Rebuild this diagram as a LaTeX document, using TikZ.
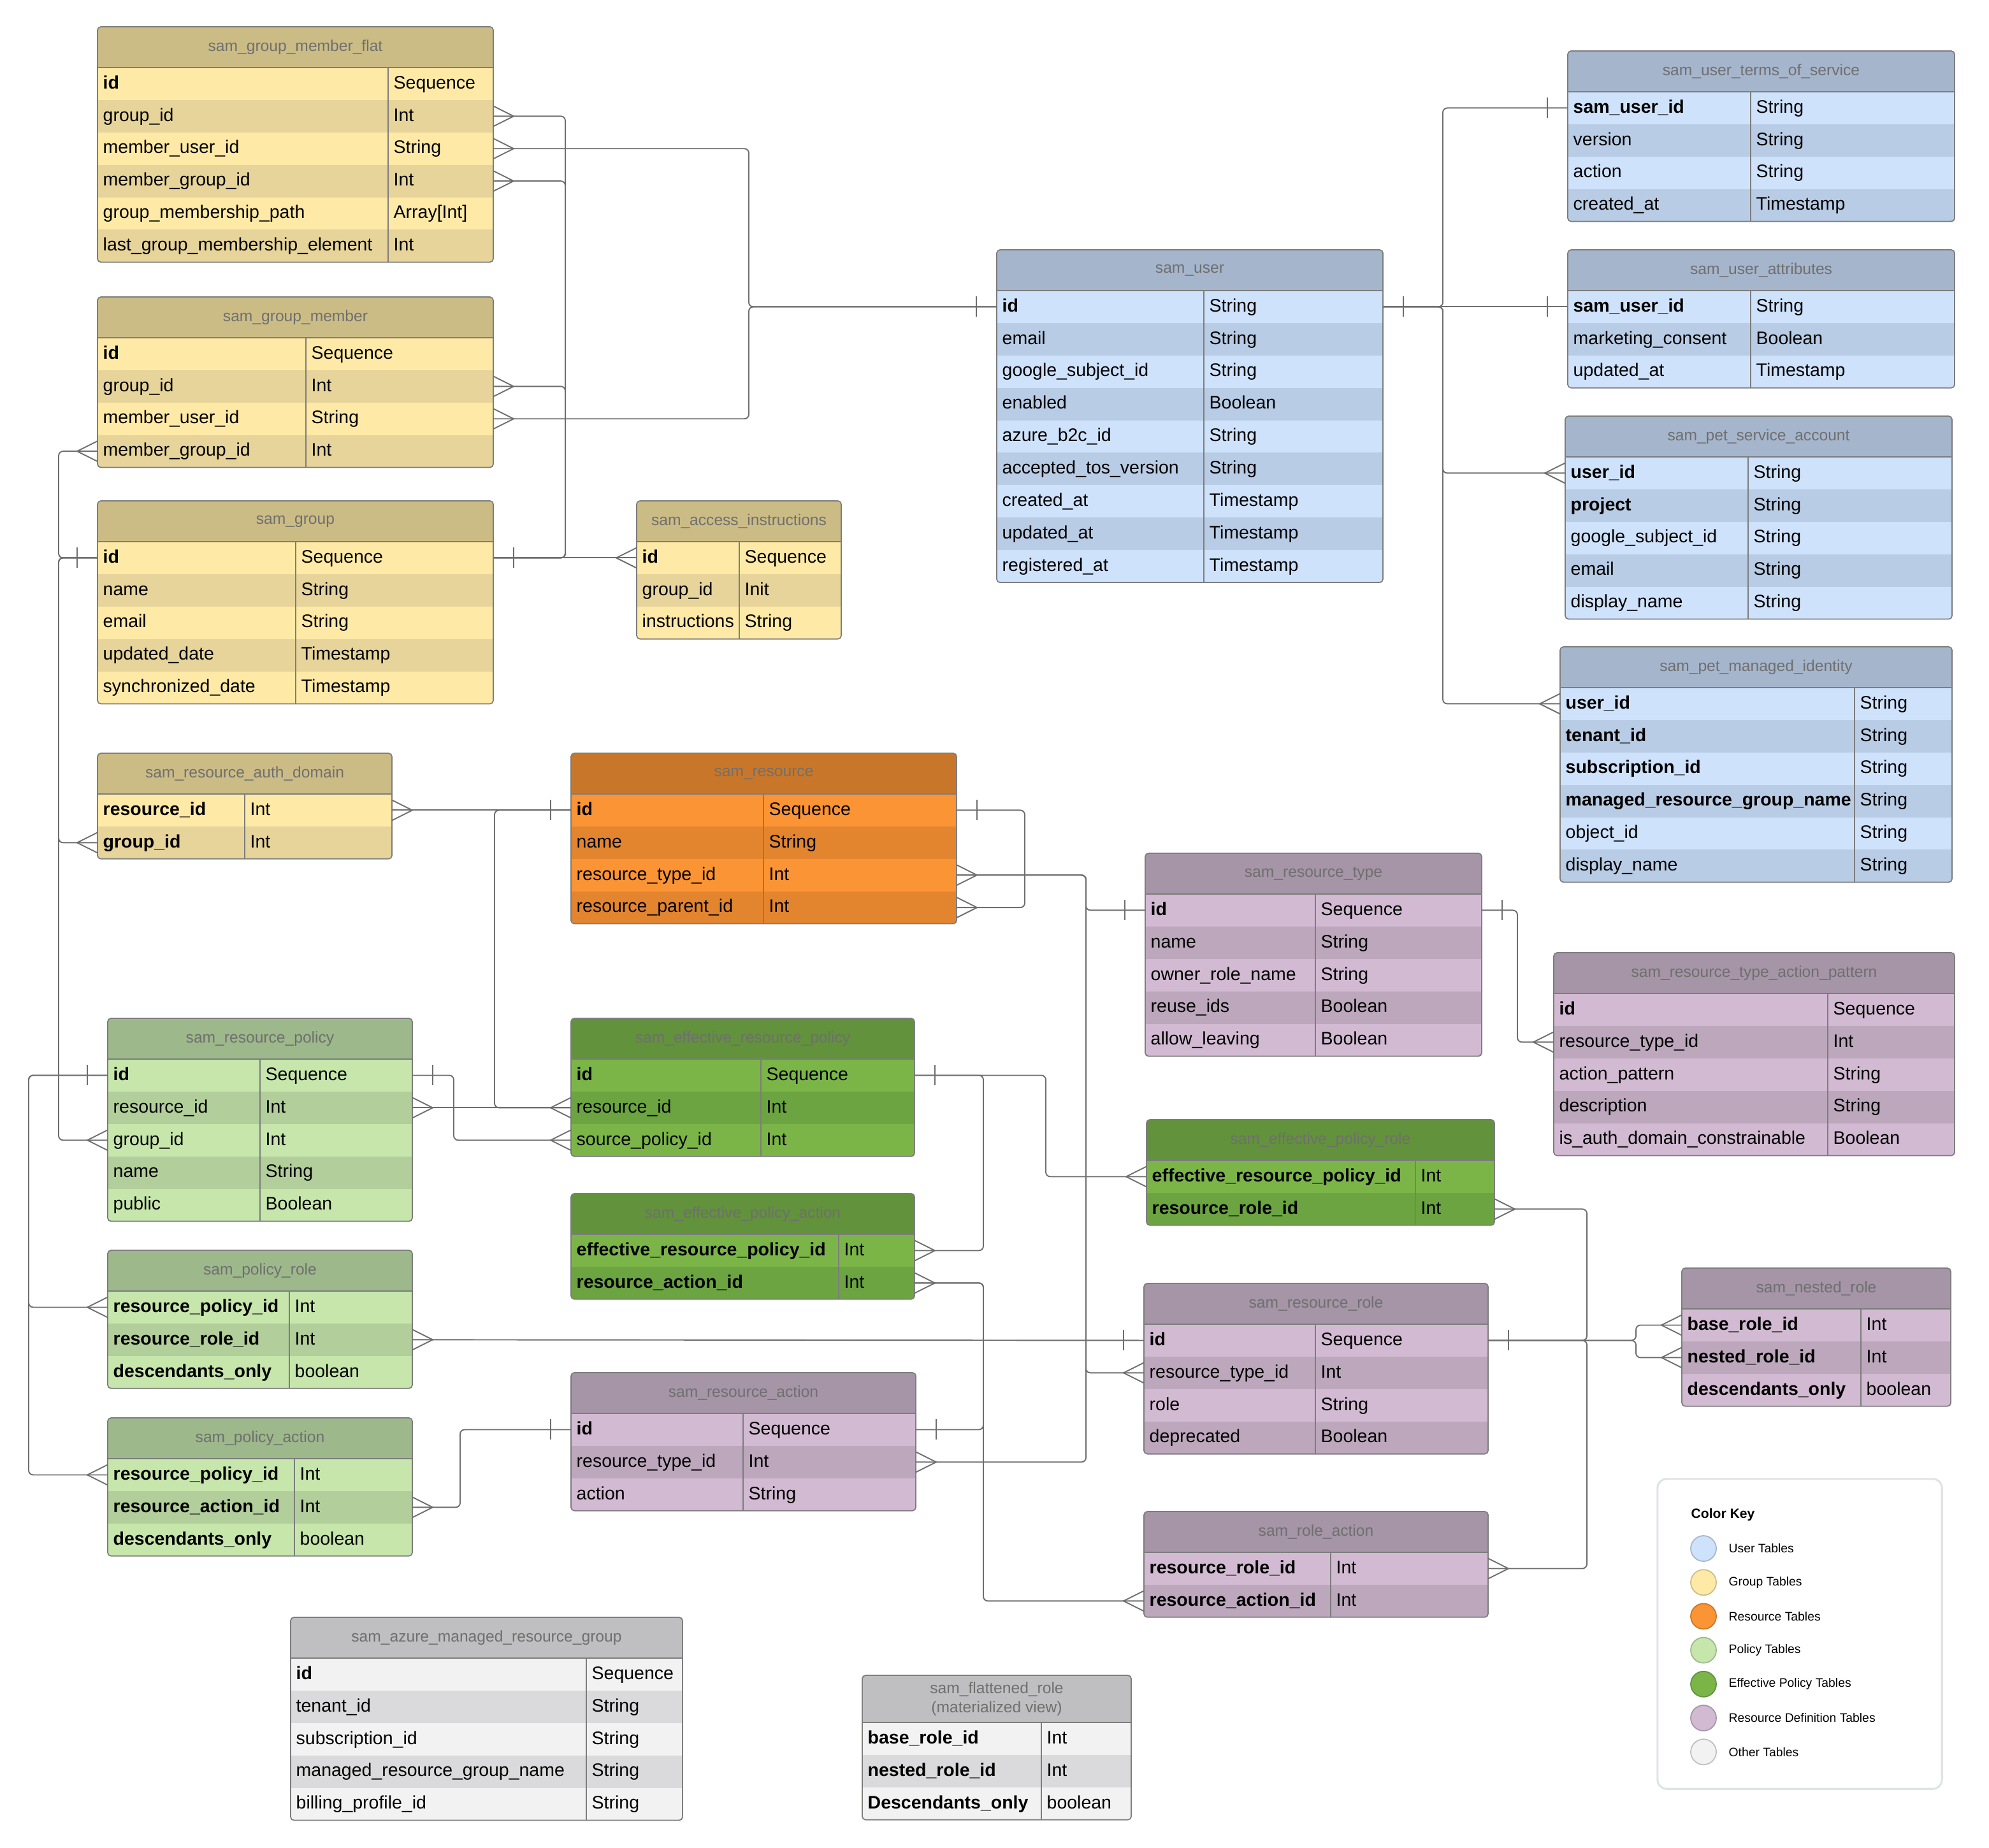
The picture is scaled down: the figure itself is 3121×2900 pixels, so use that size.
\documentclass[tikz,border=0pt]{standalone}
\usepackage{fontspec}
\setmainfont{Liberation Sans}
\usepackage{xcolor}
\definecolor{headusr}{HTML}{A5B5CC}
\definecolor{lightusr}{HTML}{CFE2FB}
\definecolor{darkusr}{HTML}{B9CCE5}
\definecolor{headgrp}{HTML}{CBBC86}
\definecolor{lightgrp}{HTML}{FEEAA6}
\definecolor{darkgrp}{HTML}{E6D49A}
\definecolor{headres}{HTML}{C8772A}
\definecolor{lightres}{HTML}{FB9434}
\definecolor{darkres}{HTML}{E3852F}
\definecolor{headpol}{HTML}{9DB88A}
\definecolor{lightpol}{HTML}{C6E6AC}
\definecolor{darkpol}{HTML}{B2CE9B}
\definecolor{headeff}{HTML}{62923C}
\definecolor{lighteff}{HTML}{7BB548}
\definecolor{darkeff}{HTML}{6BA441}
\definecolor{headdef}{HTML}{A595A7}
\definecolor{lightdef}{HTML}{D2BAD2}
\definecolor{darkdef}{HTML}{BCA7BC}
\definecolor{headoth}{HTML}{BFBFC1}
\definecolor{lightoth}{HTML}{F2F2F3}
\definecolor{darkoth}{HTML}{DADADC}
\definecolor{relGray}{HTML}{6E6E6E}
\definecolor{titleGray}{HTML}{6F6F6F}
\definecolor{keyBorder}{HTML}{DFE3E8}
\usepackage{tikz}
\usetikzlibrary{positioning}

% table: [header height]{name}{left}{top}{width}{divider}{palette}{title}{rows}
\newcommand{\erdtable}[9][64]{%
  \foreach \x [count=\k] in {#9} {\xdef\rowcount{\k}}%
  \pgfmathsetmacro\tabh{#1+\rowcount*50.9}%
  \begin{scope}
    \clip[rounded corners=1.5pt] (#3,#4) rectangle ++(#5,\tabh);
    \fill[head#7] (#3,#4) rectangle ++(#5,#1);
    \foreach \fname/\ftype [count=\i] in {#9} {
      \ifodd\i\relax \def\rowcol{light#7}\else \def\rowcol{dark#7}\fi
      \pgfmathsetmacro\ry{#4+#1+(\i-0.5)*50.9}
      \node[fieldrow, fill=\rowcol, minimum width=#5*0.01cm] (#2-\i) at (#3+#5/2,\ry) {};
      \node[fieldtext] at (#3+8,\ry) {\fname};
      \node[fieldtext] at (#3+#6+8,\ry) {\ftype};
    }
  \end{scope}
  \draw[tableline, rounded corners=1.5pt] (#3,#4) rectangle ++(#5,\tabh);
  \draw[tableline] (#3,#4+#1) -- ++(#5,0);
  \draw[tableline] (#3+#6,#4+#1) -- ++(0,\tabh-#1);
  \node[tabletitle] (#2) at (#3+#5/2,#4+#1/2) {#8};
}

\begin{document}
\begin{tikzpicture}[
    x=0.01cm, y=-0.01cm,
    fieldrow/.style={rectangle, draw=none, inner sep=0, outer sep=0, minimum height=0.509cm},
    fieldtext/.style={anchor=west, inner sep=0, text height=6pt, text depth=1.6pt, font=\fontsize{8.1}{9}\selectfont},
    tabletitle/.style={inner sep=0, align=center, text=titleGray, font=\fontsize{7}{8.4}\selectfont},
    tableline/.style={draw=relGray!90, line width=0.5pt},
    rel/.style={draw=relGray, line width=0.55pt, rounded corners=2pt},
    keydot/.style={circle, minimum size=0.4cm, inner sep=0, line width=0.5pt},
    keytext/.style={inner sep=0, font=\fontsize{5.5}{6.6}\selectfont},
    crowfoot/.pic={\draw[rel, sharp corners] (0,16) -- (32,0) -- (0,-16);},
    onebar/.pic={\draw[rel, sharp corners] (32,-16) -- (32,16);}
]
    \useasboundingbox (0,0) rectangle (3121,2900);

    % Group tables
    \erdtable{gmf}{153}{42}{621}{456}{grp}{sam\_group\_member\_flat}{\textbf{id}/Sequence, group\_id/Int, member\_user\_id/String, member\_group\_id/Int, group\_membership\_path/Array[Int], last\_group\_membership\_element/Int}
    \erdtable{gm}{153}{466}{621}{327}{grp}{sam\_group\_member}{\textbf{id}/Sequence, group\_id/Int, member\_user\_id/String, member\_group\_id/Int}
    \erdtable{grp}{153}{786}{621}{311}{grp}{sam\_group}{\textbf{id}/Sequence, name/String, email/String, updated\_date/Timestamp, synchronized\_date/Timestamp}
    \erdtable{ai}{999}{786}{321}{161}{grp}{sam\_access\_instructions}{\textbf{id}/Sequence, group\_id/Init, instructions/String}
    \erdtable{rad}{153}{1182}{462}{231}{grp}{sam\_resource\_auth\_domain}{\textbf{resource\_id}/Int, \textbf{group\_id}/Int}

    % User tables
    \erdtable{user}{1564}{392}{606}{325}{usr}{sam\_user}{\textbf{id}/String, email/String, google\_subject\_id/String, enabled/Boolean, azure\_b2c\_id/String, accepted\_tos\_version/String, created\_at/Timestamp, updated\_at/Timestamp, registered\_at/Timestamp}
    \erdtable{tos}{2460}{80}{607}{287}{usr}{sam\_user\_terms\_of\_service}{\textbf{sam\_user\_id}/String, version/String, action/String, created\_at/Timestamp}
    \erdtable{attr}{2460}{392}{607}{287}{usr}{sam\_user\_attributes}{\textbf{sam\_user\_id}/String, marketing\_consent/Boolean, updated\_at/Timestamp}
    \erdtable{psa}{2456}{653}{607}{287}{usr}{sam\_pet\_service\_account}{\textbf{user\_id}/String, \textbf{project}/String, google\_subject\_id/String, email/String, display\_name/String}
    \erdtable{pmi}{2448}{1015}{615}{462}{usr}{sam\_pet\_managed\_identity}{\textbf{user\_id}/String, \textbf{tenant\_id}/String, \textbf{subscription\_id}/String, \textbf{managed\_resource\_group\_name}/String, object\_id/String, display\_name/String}

    % Resource tables
    \erdtable{res}{896}{1182}{605}{302}{res}{sam\_resource}{\textbf{id}/Sequence, name/String, resource\_type\_id/Int, resource\_parent\_id/Int}
    \erdtable{rt}{1797}{1339}{528}{267}{def}{sam\_resource\_type}{\textbf{id}/Sequence, name/String, owner\_role\_name/String, reuse\_ids/Boolean, allow\_leaving/Boolean}
    \erdtable{rtap}{2438}{1495}{629}{430}{def}{sam\_resource\_type\_action\_pattern}{\textbf{id}/Sequence, resource\_type\_id/Int, action\_pattern/String, description/String, is\_auth\_domain\_constrainable/Boolean}
    \erdtable{ra}{896}{2154}{541}{270}{def}{sam\_resource\_action}{\textbf{id}/Sequence, resource\_type\_id/Int, action/String}
    \erdtable{rr}{1795}{2014}{540}{269}{def}{sam\_resource\_role}{\textbf{id}/Sequence, resource\_type\_id/Int, role/String, deprecated/Boolean}
    \erdtable{nr}{2639}{1990}{422}{281}{def}{sam\_nested\_role}{\textbf{base\_role\_id}/Int, \textbf{nested\_role\_id}/Int, \textbf{descendants\_only}/boolean}
    \erdtable{roa}{1795}{2372}{540}{293}{def}{sam\_role\_action}{\textbf{resource\_role\_id}/Int, \textbf{resource\_action\_id}/Int}

    % Policy tables
    \erdtable{rp}{169}{1598}{478}{239}{pol}{sam\_resource\_policy}{\textbf{id}/Sequence, resource\_id/Int, group\_id/Int, name/String, public/Boolean}
    \erdtable{pr}{169}{1962}{478}{285}{pol}{sam\_policy\_role}{\textbf{resource\_policy\_id}/Int, \textbf{resource\_role\_id}/Int, \textbf{descendants\_only}/boolean}
    \erdtable{pa}{169}{2225}{478}{293}{pol}{sam\_policy\_action}{\textbf{resource\_policy\_id}/Int, \textbf{resource\_action\_id}/Int, \textbf{descendants\_only}/boolean}
    \erdtable{erp}{896}{1598}{539}{298}{eff}{sam\_effective\_resource\_policy}{\textbf{id}/Sequence, resource\_id/Int, source\_policy\_id/Int}
    \erdtable{epa}{896}{1873}{539}{420}{eff}{sam\_effective\_policy\_action}{\textbf{effective\_resource\_policy\_id}/Int, \textbf{resource\_action\_id}/Int}
    \erdtable{epr}{1799}{1757}{546}{422}{eff}{sam\_effective\_policy\_role}{\textbf{effective\_resource\_policy\_id}/Int, \textbf{resource\_role\_id}/Int}

    % Other tables
    \erdtable{amrg}{456}{2538}{615}{464}{oth}{sam\_azure\_managed\_resource\_group}{\textbf{id}/Sequence, tenant\_id/String, subscription\_id/String, managed\_resource\_group\_name/String, billing\_profile\_id/String}
    \erdtable[74]{flat}{1353}{2629}{422}{281}{oth}{sam\_flattened\_role\\(materialized view)}{\textbf{base\_role\_id}/Int, \textbf{nested\_role\_id}/Int, \textbf{Descendants\_only}/boolean}

    % Connections
    \draw[rel] (gmf-2.east) -- ++(113,0) |- (grp-1.east);
    \draw[rel] (gmf-4.east) -- ++(113,0) |- (grp-1.east);
    \draw[rel] (gm-2.east) -- ++(113,0) |- (grp-1.east);
    \draw[rel] (grp-1.east) -- (ai-1.west);
    \draw[rel] (gmf-3.east) -- ++(401,0) |- (user-1.west);
    \draw[rel] (gm-3.east) -- ++(401,0) |- (user-1.west);
    \draw[rel] (grp-1.west) -- ++(-61,0) |- (gm-4.west);
    \draw[rel] (grp-1.west) -- ++(-61,0) |- (rad-2.west);
    \draw[rel] (grp-1.west) -- ++(-61,0) |- (rp-3.west);

    \draw[rel] (rad-1.east) -- (res-1.west);
    \draw[rel] (res-1.west) -- ++(-120,0) |- (erp-2.west);
    \draw[rel] (rp-2.east) -- (erp-2.west);
    \draw[rel] (res-1.east) -- ++(107,0) |- (res-4.east);
    \draw[rel] (res-3.east) -- ++(203,0) |- (rt-1.west);
    \draw[rel] (res-3.east) -- ++(203,0) |- (rr-2.west);
    \draw[rel] (res-3.east) -- ++(203,0) |- (ra-2.east);
    \draw[rel] (rt-1.east) -- ++(56,0) |- (rtap-2.west);

    \draw[rel] (rp-1.east) -- ++(65,0) |- (erp-3.west);
    \draw[rel] (rp-1.west) -- ++(-124,0) |- (pr-1.west);
    \draw[rel] (rp-1.west) -- ++(-124,0) |- (pa-1.west);
    \draw[rel] (pr-2.east) -- (rr-1.west);
    \draw[rel] (pa-2.east) -- ++(75,0) |- (ra-1.west);

    \draw[rel] (erp-1.east) -- ++(206,0) |- (epr-1.west);
    \draw[rel] (erp-1.east) -- ++(108,0) |- (epa-1.east);
    \draw[rel] (epa-2.east) -- ++(108,0) |- (ra-1.east);
    \draw[rel] (epa-2.east) -- ++(108,0) |- (roa-2.west);
    \draw[rel] (rr-1.east) -- ++(155,0) |- (epr-2.east);
    \draw[rel] (rr-1.east) -- ++(155,0) |- (roa-1.east);
    \draw[rel] (rr-1.east) -- ++(232,0) |- (nr-1.west);
    \draw[rel] (rr-1.east) -- ++(232,0) |- (nr-2.west);

    \draw[rel] (user-1.east) -- ++(94,0) |- (tos-1.west);
    \draw[rel] (user-1.east) -- (attr-1.west);
    \draw[rel] (user-1.east) -- ++(94,0) |- (psa-1.west);
    \draw[rel] (user-1.east) -- ++(94,0) |- (pmi-1.west);

    % Cardinality marks
    \foreach \n in {gmf-2, gmf-3, gmf-4, gm-2, gm-3, rad-1, rp-2, res-3, res-4, ra-2, epa-1, epa-2, epr-2, roa-1, pr-2, pa-2}
        \pic at (\n.east) {crowfoot};
    \foreach \n in {gm-4, rad-2, rp-3, ai-1, erp-2, erp-3, pr-1, pa-1, rr-2, rtap-2, epr-1, roa-2, nr-1, nr-2, psa-1, pmi-1}
        \pic[xscale=-1] at (\n.west) {crowfoot};
    \foreach \n in {grp-1, res-1, rt-1, rp-1, erp-1, ra-1, rr-1, user-1}
        \pic at (\n.east) {onebar};
    \foreach \n in {grp-1, res-1, user-1, rp-1, rr-1, ra-1, rt-1, tos-1, attr-1}
        \pic[xscale=-1] at (\n.west) {onebar};

    % Color key
    \node[draw=keyBorder, line width=0.9pt, rounded corners=4pt, minimum width=4.46cm, minimum height=4.86cm, inner sep=0] (key) at (2824,2564) {};
    \node[anchor=west, inner sep=0, font=\fontsize{6}{7}\selectfont\bfseries] (keytitle) at (2653,2377) {Color Key};
    \foreach \pal/\lab [count=\k] in {usr/User Tables, grp/Group Tables, res/Resource Tables, pol/Policy Tables, eff/Effective Policy Tables, def/Resource Definition Tables, oth/Other Tables} {
        \node[keydot, fill=light\pal, draw=head\pal] (dot-\k) at (2673,2430+\k*53.2-53.2) {};
        \node[keytext, right=0.18cm of dot-\k] (lab-\k) {\lab};
    }
\end{tikzpicture}
\end{document}
